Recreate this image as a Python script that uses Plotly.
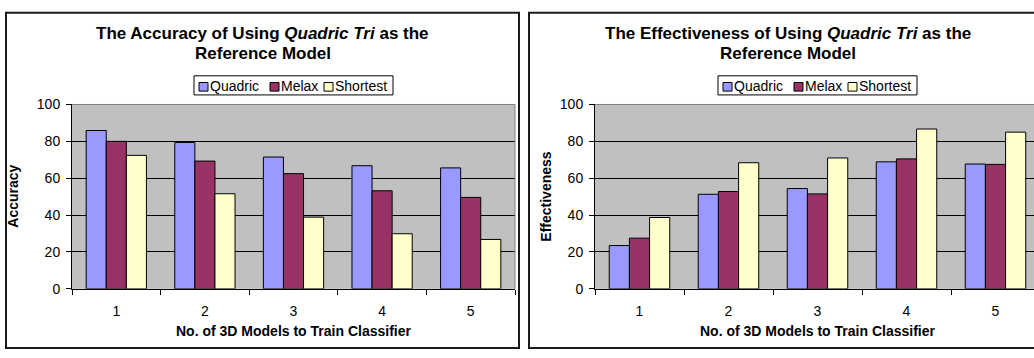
import plotly.graph_objects as go

# ---- data -------------------------------------------------------------
categories = ["1", "2", "3", "4", "5"]
series_names = ["Quadric", "Melax", "Shortest"]

accuracy_quadric = [85.9, 79.4, 71.5, 66.8, 65.6]
accuracy_melax = [80.0, 69.3, 62.5, 53.2, 49.6]
accuracy_shortest = [72.4, 51.6, 38.9, 29.9, 26.8]

effectiveness_quadric = [23.5, 51.3, 54.4, 68.9, 67.7]
effectiveness_melax = [27.5, 52.8, 51.5, 70.5, 67.5]
effectiveness_shortest = [38.7, 68.4, 71.0, 86.7, 85.0]

y_ticks = [0, 20, 40, 60, 80, 100]

x_title = "No. of 3D Models to Train Classifier"

# ---- styling ----------------------------------------------------------
colors = {"Quadric": "#9999FF", "Melax": "#993366", "Shortest": "#FFFFCC"}
FONT = "Liberation Sans, Arial, Helvetica, sans-serif"
W, H = 1034, 358


def fx(x):
    return x / W


def fy(y):
    return 1 - y / H


panels = [
    dict(
        title=["The Accuracy of Using <i>Quadric Tri</i> as the", "Reference Model"],
        ytitle="Accuracy",
        values=[accuracy_quadric, accuracy_melax, accuracy_shortest],
        box=(6, 5, 519, 356),
        plot=(72, 101, 515, 294),
        ytitle_x=13,
        legend_left=194,
    ),
    dict(
        title=["The Effectiveness of Using <i>Quadric Tri</i> as the", "Reference Model"],
        ytitle="Effectiveness",
        values=[effectiveness_quadric, effectiveness_melax, effectiveness_shortest],
        box=(529, 5, 1046, 356),
        plot=(595, 101, 1040, 294),
        ytitle_x=546,
        legend_left=718,
    ),
]

fig = go.Figure()
shapes = []
annotations = []

for i, p in enumerate(panels):
    n = "" if i == 0 else str(i + 1)
    xa, ya = "x" + n, "y" + n
    x0, y0, x1, y1 = p["plot"]
    band = (x1 - x0) / len(categories)
    vis_right = min(x1, W)
    x_range = [-0.5, -0.5 + (vis_right - x0) / band]

    for name, vals in zip(series_names, p["values"]):
        fig.add_trace(go.Bar(
            x=categories, y=vals, name=name, xaxis=xa, yaxis=ya,
            marker=dict(color=colors[name], line=dict(color="black", width=1)),
            showlegend=False, hoverinfo="x+y+name",
        ))

    fig.update_layout({
        "xaxis" + n: dict(
            domain=[fx(x0), fx(vis_right)], anchor=ya, type="category",
            range=x_range, showline=True, linecolor="black", linewidth=1,
            ticks="outside", tickson="boundaries", ticklen=5, tickcolor="black",
            ticklabelstandoff=9,
            showgrid=False, tickfont=dict(family=FONT, size=14, color="black"),
            fixedrange=True,
        ),
        "yaxis" + n: dict(
            domain=[fy(y1), fy(y0)], anchor=xa, range=[0, 100],
            tickmode="array", tickvals=y_ticks,
            showline=True, linecolor="black", linewidth=1,
            ticks="outside", ticklen=5, tickcolor="black", ticklabelstandoff=3,
            showgrid=True, gridcolor="black", gridwidth=1, zeroline=False,
            tickfont=dict(family=FONT, size=14, color="black"),
            fixedrange=True,
        ),
    })

    # outer panel frame
    bx0, by0, bx1, by1 = p["box"]
    shapes.append(dict(type="rect", xref="paper", yref="paper",
                       x0=fx(bx0), x1=fx(bx1), y0=fy(by1), y1=fy(by0),
                       line=dict(color="#1a1a1a", width=2), layer="below"))
    # grey plot-area border on top
    shapes.append(dict(type="line", xref=xa + " domain", yref=ya + " domain",
                       x0=0, x1=1, y0=1, y1=1,
                       line=dict(color="#808080", width=1), layer="above"))
    if x1 <= W:
        shapes.append(dict(type="line", xref=xa + " domain", yref=ya + " domain",
                           x0=1, x1=1, y0=0, y1=1,
                           line=dict(color="#808080", width=1), layer="above"))

    # titles
    cx = (bx0 + bx1) / 2
    for line, ypos in zip(p["title"], (26.5, 47.5)):
        annotations.append(dict(text="<b>" + line + "</b>", xref="paper", yref="paper",
                                x=fx(cx), y=fy(ypos), xanchor="center", yanchor="middle",
                                showarrow=False,
                                font=dict(family=FONT, size=17, color="black")))
    pcx = (x0 + x1) / 2
    annotations.append(dict(text="<b>" + x_title + "</b>", xref="paper", yref="paper",
                            x=fx(pcx), y=fy(338), xanchor="center", yanchor="middle",
                            showarrow=False,
                            font=dict(family=FONT, size=14, color="black")))
    annotations.append(dict(text="<b>" + p["ytitle"] + "</b>", xref="paper", yref="paper",
                            x=fx(p["ytitle_x"]), y=fy((y0 + y1) / 2), textangle=-90,
                            xanchor="center", yanchor="middle", showarrow=False,
                            font=dict(family=FONT, size=14, color="black")))

    # legend box with swatches
    lx = p["legend_left"]
    shapes.append(dict(type="rect", xref="paper", yref="paper",
                       x0=fx(lx), x1=fx(lx + 199), y0=fy(91), y1=fy(71),
                       line=dict(color="black", width=1), fillcolor="white", layer="above"))
    for name, off in zip(series_names, (5, 76, 130)):
        shapes.append(dict(type="rect", xref="paper", yref="paper",
                           x0=fx(lx + off), x1=fx(lx + off + 9), y0=fy(87), y1=fy(78),
                           line=dict(color="black", width=1), fillcolor=colors[name],
                           layer="above"))
        annotations.append(dict(text=name, xref="paper", yref="paper",
                                x=fx(lx + off + 10), y=fy(82), xanchor="left",
                                yanchor="middle", showarrow=False, borderpad=0,
                                font=dict(family=FONT, size=14, color="black")))

fig.update_layout(
    width=W, height=H, margin=dict(l=0, r=0, t=0, b=0),
    paper_bgcolor="white", plot_bgcolor="#C0C0C0",
    barmode="group", bargap=0.32, bargroupgap=0,
    showlegend=False, shapes=shapes, annotations=annotations,
    font=dict(family=FONT, color="black"),
)

fig.write_html("out.html", config={"displayModeBar": False})
